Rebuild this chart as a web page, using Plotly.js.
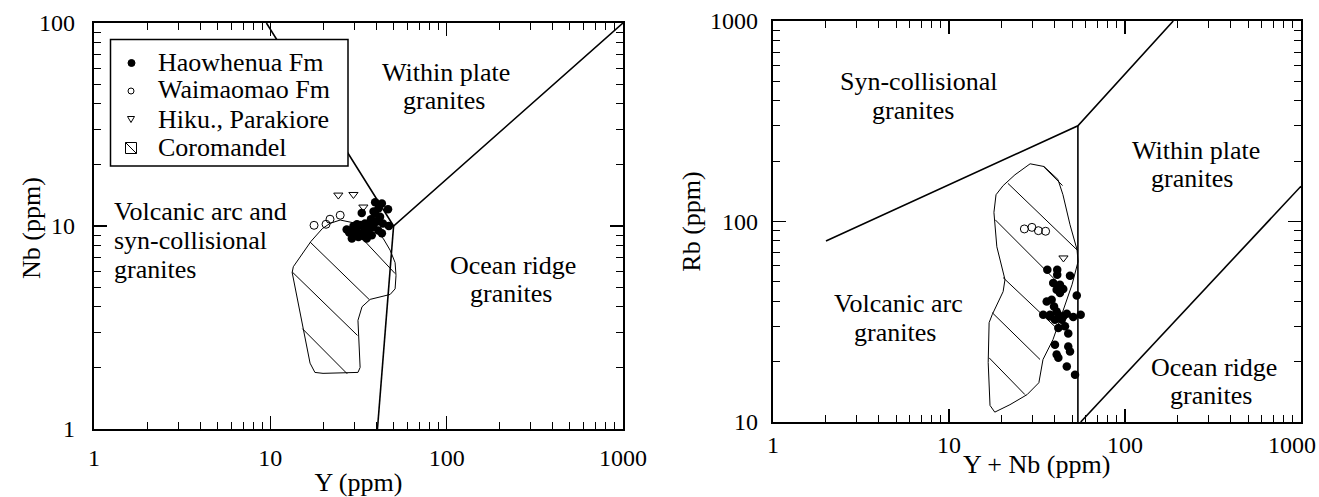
<!DOCTYPE html>
<html><head><meta charset="utf-8">
<script src="https://cdn.plot.ly/plotly-3.0.1.min.js"></script>
<style>html,body{margin:0;padding:0;background:#fff;}#chart{width:1319px;height:497px;}</style>
</head><body><div id="chart"></div>
<script>
// ---------- LEFT PANEL: Nb vs Y ----------
const haoY  = [39.3,42.9,41.0,46.5,33.0,39.3,41.9,47.0,27.1,29.6,32.3,34.4,36.8,38.4,41.0,42.9,29.0,31.6,35.2,37.6,33.7,36.0,30.9,29.8,37.2,35.0,31.0,40.0,28.0,34.0,38.5,43.5];
const haoNb = [13.1,12.9,12.2,12.1,11.6,11.5,11.1,10.0,9.6,9.97,10.1,10.3,10.35,9.89,9.5,9.2,8.67,8.83,8.67,9.0,9.34,9.34,9.45,9.2,10.8,9.7,10.2,10.5,9.3,8.9,11.8,10.3];
const waiY  = [17.7,20.7,21.8,24.9];
const waiNb = [10.08,10.2,10.8,11.3];
const hikY  = [24.3,29.6,33.7];
const hikNb = [14.2,14.3,12.4];
const coroY  = [24.9,29.1,36.8,43.6,47.8,51.0,51.6,51.0,47.8,36.8,33.1,31.4,32.3,31.4,19.9,17.9,16.8,13.3,13.5,17.0,19.7,21.8,24.9];
const coroNb = [10.7,10.4,9.97,8.7,7.6,6.6,5.7,4.9,4.6,4.35,4.0,3.43,2.01,1.90,1.88,1.90,2.11,5.9,6.3,8.4,9.7,10.3,10.7];
const coroHatchY  = [34.0,51.0,null,16.8,36.4,null,13.3,31.2,null,15.2,27.3];
const coroHatchNb = [8.49,5.83,null,8.34,4.34,null,5.94,2.89,null,3.12,1.87];
const nbyBoundY  = [9.5,50,1000,null,50,40.5];
const nbyBoundNb = [100,10,100,null,10,1];

// ---------- RIGHT PANEL: Rb vs Y+Nb ----------
const haoYNb = [36.2,41.2,41.2,48.7,39.1,42.7,40.9,44.6,42.7,53.2,35.9,38.3,39.5,40.9,34.3,37.5,41.8,46.7,50.8,56.0,40.0,43.7,45.6,41.8,47.6,40.0,47.6,48.7,40.9,41.8,46.7,52.0,37.5,44.6];
const haoRb  = [57.5,57.5,54.3,53.7,49.4,48.4,45.7,46.1,44.0,42.8,39.9,40.7,37.7,35.6,34.3,34.3,34.3,34.7,33.4,34.3,32.4,32.4,30.0,29.4,27.6,24.3,23.8,22.5,21.7,20.9,18.9,17.2,33.6,33.6];
const waiYNb = [26.8,29.6,32.2,35.4];
const waiRb  = [91.8,93.5,90.0,89.4];
const hikYNb = [44.7];
const hikRb  = [65.8];
const coroYNb = [28.9,34.7,41.6,44.4,48.7,53.4,54.1,50.0,42.7,39.0,34.2,32.4,27.8,22.2,18.2,17.1,16.7,16.9,17.6,20.3,20.8,18.7,18.0,18.5,20.3,23.7,28.9];
const coroRb  = [194,188,162,136,96.4,72.3,63.0,48.4,32.4,25.8,20.5,15.7,13.7,12.2,11.2,12.1,19.8,31.3,34.3,44.7,51.3,74.8,111,136,151,171,194];
const coroHatchYNb = [34.4,44.2,null,21.6,54.1,null,18.3,46.2,null,20.3,40.0,null,17.6,32.9,null,16.9,27.0];
const coroHatchRb  = [188,151,null,155,71.4,null,102,45.2,null,52.5,29.9,null,35.1,20.5,null,20.9,13.7];
const rbBoundYNb = [2,54,188,null,54,54,null,56,1000];
const rbBoundRb  = [80,300,1000,null,300,10,null,10,150];

// ---------- labels ----------
const seriesNames = ['Haowhenua Fm','Waimaomao Fm','Hiku., Parakiore','Coromandel'];
const xTickVals = [1,10,100,1000];
const xTickText = ['1','10','100','1000'];
const nbTickVals = [1,10,100];
const nbTickText = ['1','10','100'];
const rbTickVals = [10,100,1000];
const rbTickText = ['10','100','1000'];
const axisTitles = ['Y (ppm)','Nb (ppm)','Y + Nb (ppm)','Rb (ppm)'];

// ---------- helpers ----------
const W = 1319, H = 497;
const fx = p => p / W;
const fy = p => 1 - p / H;
const FONT = 'Liberation Serif, Times New Roman, serif';

function minorVals(lo, hi) {
  const v = [];
  for (let d = lo; d < hi; d++) for (let k = 2; k <= 9; k++) v.push(k * Math.pow(10, d));
  return v;
}
function axis(domain, range, tv, tt, mv, anchor, standoff, title, tstand) {
  const a = {
    type: 'log', domain: domain, range: range, anchor: anchor,
    tickmode: 'array', tickvals: tv, ticktext: tt,
    ticks: 'inside', ticklen: 13, tickwidth: 1.5, tickcolor: '#000',
    showline: true, linewidth: 2.2, linecolor: '#000', mirror: 'allticks',
    showgrid: false, zeroline: false, fixedrange: true,
    ticklabelstandoff: standoff, ticklabeloverflow: 'allow',
    minor: {tickmode: 'array', tickvals: mv, ticks: 'inside', ticklen: 7, tickwidth: 1, tickcolor: '#000', showgrid: false},
    tickfont: {family: FONT, size: 24, color: '#000'}
  };
  if (title) a.title = {text: title, font: {family: FONT, size: 26, color: '#000'}, standoff: tstand};
  return a;
}

const blackLine = {color: '#000', width: 1.6};
const thinLine = {color: '#000', width: 1};
const traces = [
  {x: nbyBoundY, y: nbyBoundNb, xaxis: 'x', yaxis: 'y', mode: 'lines', line: blackLine, showlegend: false, hoverinfo: 'skip'},
  {x: coroY, y: coroNb, xaxis: 'x', yaxis: 'y', mode: 'lines', line: thinLine, name: seriesNames[3], showlegend: false},
  {x: coroHatchY, y: coroHatchNb, xaxis: 'x', yaxis: 'y', mode: 'lines', line: thinLine, showlegend: false, hoverinfo: 'skip'},
  {x: waiY, y: waiNb, xaxis: 'x', yaxis: 'y', mode: 'markers', name: seriesNames[1], showlegend: false,
   marker: {symbol: 'circle-open', size: 8, color: '#000', line: {width: 1, color: '#000'}}},
  {x: hikY, y: hikNb, xaxis: 'x', yaxis: 'y', mode: 'markers', name: seriesNames[2], showlegend: false,
   marker: {symbol: 'triangle-down-open', size: 8, color: '#000', line: {width: 1, color: '#000'}}},
  {x: haoY, y: haoNb, xaxis: 'x', yaxis: 'y', mode: 'markers', name: seriesNames[0], showlegend: false,
   marker: {symbol: 'circle', size: 8.5, color: '#000'}},

  {x: rbBoundYNb, y: rbBoundRb, xaxis: 'x2', yaxis: 'y2', mode: 'lines', line: blackLine, showlegend: false, hoverinfo: 'skip'},
  {x: coroYNb, y: coroRb, xaxis: 'x2', yaxis: 'y2', mode: 'lines', line: thinLine, name: seriesNames[3], showlegend: false},
  {x: coroHatchYNb, y: coroHatchRb, xaxis: 'x2', yaxis: 'y2', mode: 'lines', line: thinLine, showlegend: false, hoverinfo: 'skip'},
  {x: waiYNb, y: waiRb, xaxis: 'x2', yaxis: 'y2', mode: 'markers', name: seriesNames[1], showlegend: false,
   marker: {symbol: 'circle-open', size: 8, color: '#000', line: {width: 1, color: '#000'}}},
  {x: hikYNb, y: hikRb, xaxis: 'x2', yaxis: 'y2', mode: 'markers', name: seriesNames[2], showlegend: false,
   marker: {symbol: 'triangle-down-open', size: 8, color: '#000', line: {width: 1, color: '#000'}}},
  {x: haoYNb, y: haoRb, xaxis: 'x2', yaxis: 'y2', mode: 'markers', name: seriesNames[0], showlegend: false,
   marker: {symbol: 'circle', size: 8.5, color: '#000'}}
];

function txt(text, x, y, anchor, angle, size) {
  const a = {text: text, xref: 'paper', yref: 'paper', x: fx(x), y: fy(y), xanchor: anchor || 'center', yanchor: 'middle',
          showarrow: false, font: {family: FONT, size: size || 26, color: '#000'}};
  if (angle) a.textangle = angle;
  return a;
}
// the last right-panel x label sits at the page edge: keep it whole by right-aligning it
const x2TickText = xTickText.slice(0, 3).concat(['']);
const annotations = [
  txt('Within plate', 446, 72), txt('granites', 444, 100),
  txt('Volcanic arc and', 112, 211, 'left'), txt('syn-collisional', 112, 240, 'left'), txt('granites', 112, 269, 'left'),
  txt('Ocean ridge', 513, 265), txt('granites', 511, 293),
  txt('Syn-collisional', 919, 82), txt('granites', 913, 110),
  txt('Within plate', 1196, 150), txt('granites', 1192, 178),
  txt('Volcanic arc', 898, 303), txt('granites', 895, 332),
  txt('Ocean ridge', 1214, 367), txt('granites', 1211, 395),
  // axis titles placed by hand where they sit closer than the library allows
  txt(axisTitles[1], 31, 228, 'center', -90),
  txt(axisTitles[2], 1036, 464),
  txt(xTickText[3], 1318, 445, 'right', null, 24),
  // legend texts
  txt(seriesNames[0], 156, 62, 'left'), txt(seriesNames[1], 156, 90, 'left'),
  txt(seriesNames[2], 156, 119, 'left'), txt(seriesNames[3], 156, 148, 'left')
];

function pixShape(type, cx, cy, extra) {
  return Object.assign({type: type, xref: 'paper', yref: 'paper', xsizemode: 'pixel', ysizemode: 'pixel',
    xanchor: fx(cx), yanchor: fy(cy), layer: 'above'}, extra);
}
const shapes = [
  {type: 'rect', xref: 'paper', yref: 'paper', x0: fx(110.5), x1: fx(348), y0: fy(39.5), y1: fy(166),
   line: {color: '#000', width: 1.5}, fillcolor: '#fff', layer: 'above'},
  pixShape('circle', 131.5, 63, {x0: -3.5, x1: 3.5, y0: -3.5, y1: 3.5, fillcolor: '#000', line: {color: '#000', width: 1}}),
  pixShape('circle', 131, 91, {x0: -3, x1: 3, y0: -3, y1: 3, fillcolor: '#fff', line: {color: '#000', width: 1}}),
  pixShape('path', 131, 119, {path: 'M-3.5,2.5 L3.5,2.5 L0,-3.5 Z', fillcolor: '#fff', line: {color: '#000', width: 1}}),
  pixShape('rect', 131, 148, {x0: -5.5, x1: 5.5, y0: -5.5, y1: 5.5, fillcolor: '#fff', line: {color: '#000', width: 1}}),
  pixShape('path', 131, 148, {path: 'M-5.5,5.5 L5.5,-5.5', line: {color: '#000', width: 1}})
];

const layout = {
  width: W, height: H, margin: {l: 0, r: 0, t: 0, b: 0},
  paper_bgcolor: '#fff', plot_bgcolor: '#fff', showlegend: false,
  font: {family: FONT, color: '#000'},
  xaxis:  axis([fx(94), fx(623)], [0, 3], xTickVals, xTickText, minorVals(0, 3), 'y', 6, axisTitles[0], 6),
  yaxis:  axis([1 - 429 / H, 1 - 23 / H], [0, 2], nbTickVals, nbTickText, minorVals(0, 2), 'x', 12, null, 0),
  xaxis2: axis([fx(773), fx(1301)], [0, 3], xTickVals, x2TickText, minorVals(0, 3), 'y2', 0, null, 0),
  yaxis2: axis([1 - 422 / H, 1 - 21 / H], [1, 3], rbTickVals, rbTickText, minorVals(1, 3), 'x2', 8, axisTitles[3], 2),
  annotations: annotations, shapes: shapes
};

Plotly.newPlot('chart', traces, layout, {displayModeBar: false, staticPlot: true});
</script></body></html>
